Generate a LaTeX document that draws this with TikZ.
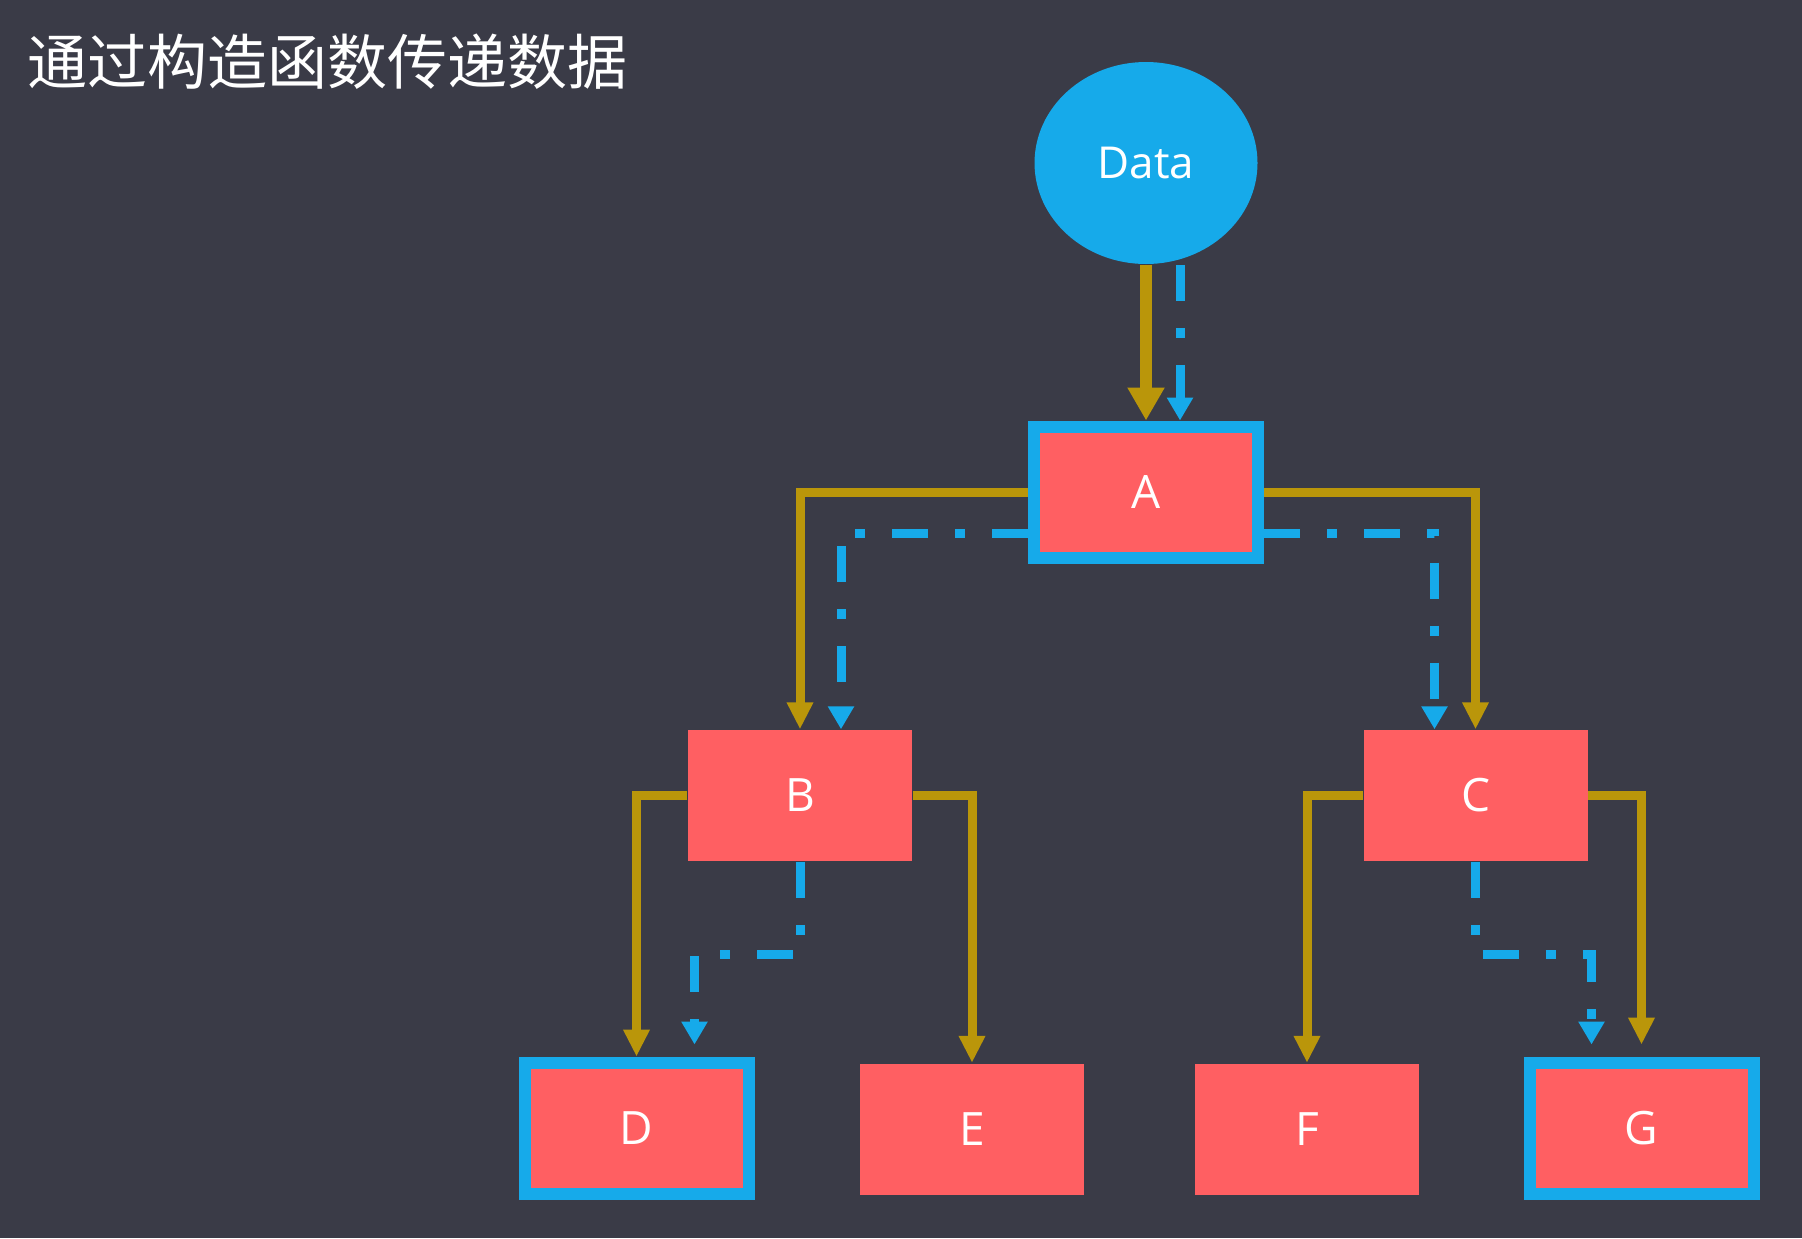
\documentclass[tikz,border=0pt]{standalone}
\usepackage{fontspec}
\setmainfont{Open Sans}
\newfontfamily\cjkfont{Noto Sans CJK SC}
\usetikzlibrary{arrows.meta,shapes.geometric,calc}

\definecolor{bgdark}{RGB}{58,59,71}
\definecolor{boxred}{RGB}{255,95,98}
\definecolor{datablue}{RGB}{22,170,234}
\definecolor{linkgold}{RGB}{186,150,10}

\tikzset{every picture/.style={line width=0.75pt}}
\tikzset{
  objbox/.style={fill=boxred, minimum width=112pt, minimum height=65.5pt, inner sep=0pt,
    text=white, font=\fontsize{23}{23}\selectfont},
  hitbox/.style={objbox, draw=datablue, line width=6pt},
  propline/.style={draw=linkgold, line width=4.5pt, -{Triangle[width=12.5pt,length=13.5pt]}},
  dataline/.style={draw=datablue, line width=4.5pt,
    dash pattern=on 18pt off 13.5pt on 5pt off 13.5pt, -{Triangle[width=12.5pt,length=11.5pt]}},
}

\begin{document}
\begin{tikzpicture}[x=0.5pt,y=0.5pt,yscale=-1,xscale=1]
%Background
\fill[bgdark] (0,0) rectangle (1802,1238);
\useasboundingbox (0,0) rectangle (1802,1238);

% Text Node
\node[anchor=base west, inner sep=0pt, text=white, font=\cjkfont\fontsize{30}{30}\selectfont] (title) at (27,84) {通过构造函数传递数据};

%Shape: Ellipse
\node[ellipse, fill=datablue, minimum width=111.5pt, minimum height=101pt, inner sep=0pt,
  text=white, font=\fontsize{22}{22}\selectfont] (Data) at (1146,163) {Data};

%Shape: Rectangle
\node[hitbox] (A) at (1146,492) {A};
\node[objbox] (B) at (800,795.5) {B};
\node[objbox] (C) at (1475.5,795.5) {C};
\node[hitbox] (D) at (636.5,1128) {D};
\node[objbox] (E) at (972,1129) {E};
\node[objbox] (F) at (1307,1129) {F};
\node[hitbox] (G) at (1641.5,1128) {G};

%Straight Lines
\draw[propline, line width=6pt, -{Triangle[width=17.5pt,length=16.5pt]}] (Data.south) -- (A.north);
\draw[dataline] ($(Data.south)+(34,0)$) -- ($(A.north)+(34,0)$);
%Straight Lines
\draw[propline] (A.west) -| (B.north);
\draw[dataline] ($(A.west)+(0,41)$) -| ($(B.north)+(41,0)$);
\draw[propline] (A.east) -| (C.north);
\draw[dataline] ($(A.east)+(0,41)$) -| ($(C.north)+(-41,0)$);
%Straight Lines
\draw[propline] (B.west) -| (D.north);
\draw[propline] (B.east) -| (E.north);
\draw[dataline, shorten >=6pt] (B.south) -- ++(0,93) -| ($(D.north)+(58,0)$);
%Straight Lines
\draw[propline] (C.west) -| (F.north);
\draw[propline, shorten >=6pt] (C.east) -| (G.north);
\draw[dataline, shorten >=6pt] (C.south) -- ++(0,93) -| ($(G.north)+(-50,0)$);

\end{tikzpicture}
\end{document}
